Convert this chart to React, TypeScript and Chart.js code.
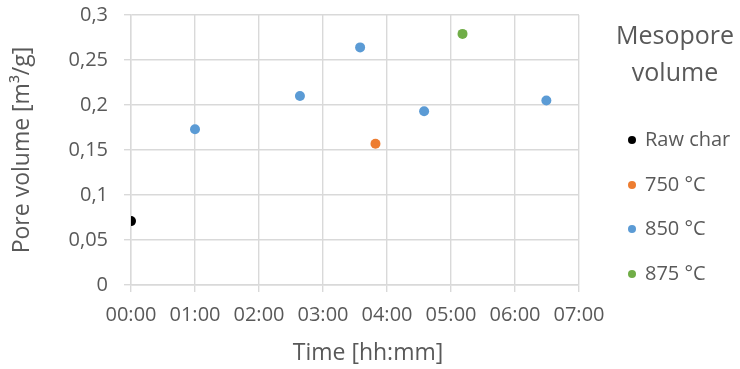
import React, { useEffect, useRef } from "react";
import { Chart, registerables } from "chart.js";

Chart.register(...registerables);

// Time in hours, pore volume in m3/g
const rawCharX = [0];
const rawCharY = [0.071];
const t750X = [3.82];
const t750Y = [0.157];
const t850X = [1.0, 2.64, 3.58, 4.58, 6.49];
const t850Y = [0.173, 0.21, 0.264, 0.193, 0.205];
const t875X = [5.18];
const t875Y = [0.279];

const seriesNames = ["Raw char", "750 °C", "850 °C", "875 °C"];
const seriesColors = ["#000000", "#ED7D31", "#5B9BD5", "#70AD47"];
const legendTitle = ["Mesopore", "volume"];
const xTitle = "Time [hh:mm]";
const yTitle = "Pore volume [m³/g]";

const FONT = "'Open Sans', 'Noto Sans', sans-serif";
const TEXT = "#595959";
const GRID = "#D9D9D9";

const toPoints = (xs: number[], ys: number[]) => xs.map((x, i) => ({ x, y: ys[i] }));

const overlayPlugin = {
  id: "overlay",
  afterDraw(chart: any) {
    const ctx = chart.ctx;
    ctx.save();
    ctx.fillStyle = TEXT;
    // x axis title
    ctx.font = `23px ${FONT}`;
    ctx.textAlign = "center";
    ctx.textBaseline = "middle";
    ctx.fillText(xTitle, 368, 353);
    // legend title
    ctx.font = `25px ${FONT}`;
    ctx.fillText(legendTitle[0], 675, 37);
    ctx.fillText(legendTitle[1], 675, 74);
    // legend items
    const ys = [140, 185, 229, 274];
    ctx.font = `20px ${FONT}`;
    ctx.textAlign = "left";
    seriesNames.forEach((name, i) => {
      ctx.fillStyle = seriesColors[i];
      ctx.beginPath();
      ctx.arc(632, ys[i], 4, 0, Math.PI * 2);
      ctx.fill();
      ctx.fillStyle = TEXT;
      ctx.fillText(name, 645, ys[i]);
    });
    ctx.restore();
  },
};

export default function App() {
  const ref = useRef<HTMLCanvasElement>(null);
  useEffect(() => {
    if (!ref.current) return;
    const data = [
      toPoints(rawCharX, rawCharY),
      toPoints(t750X, t750Y),
      toPoints(t850X, t850Y),
      toPoints(t875X, t875Y),
    ];
    const chart = new Chart(ref.current, {
      type: "scatter",
      data: {
        datasets: data.map((d, i) => ({
          label: seriesNames[i],
          data: d,
          backgroundColor: seriesColors[i],
          borderColor: seriesColors[i],
          borderWidth: 0,
          pointRadius: 5,
          pointHoverRadius: 5,
        })),
      },
      options: {
        responsive: false,
        animation: false,
        events: [],
        layout: { padding: { left: 0, top: 15, right: 161, bottom: 0 } },
        plugins: { legend: { display: false }, tooltip: { enabled: false } },
        scales: {
          x: {
            type: "linear",
            min: 0,
            max: 7,
            afterFit: (s: any) => {
              s.height = 84;
              s.paddingLeft = 0;
              s.paddingRight = 0;
            },
            ticks: {
              stepSize: 1,
              padding: 11,
              color: TEXT,
              font: { family: FONT, size: 20 },
              maxRotation: 0,
              callback: (v: any) => String(Math.round(Number(v))).padStart(2, "0") + ":00",
            },
            grid: { color: GRID, lineWidth: 1.4, tickLength: 7, drawTicks: true },
            border: { color: GRID, width: 1.4 },
          },
          y: {
            min: 0,
            max: 0.3,
            afterFit: (s: any) => {
              s.width = 131;
              s.paddingTop = 0;
              s.paddingBottom = 0;
            },
            ticks: {
              stepSize: 0.05,
              padding: 16,
              color: TEXT,
              font: { family: FONT, size: 20 },
              callback: (v: any) => String(parseFloat(Number(v).toFixed(3))).replace(".", ","),
            },
            grid: { color: GRID, lineWidth: 1.4, tickLength: 7, drawTicks: true },
            border: { color: GRID, width: 1.4 },
            title: {
              display: true,
              text: yTitle,
              color: TEXT,
              font: { family: FONT, size: 23 },
              padding: { top: 9, bottom: 0 },
            },
          },
        },
      },
      plugins: [overlayPlugin],
    });
    return () => chart.destroy();
  }, []);
  return (
    <div style={{ position: "absolute", left: 0, top: 0, width: 740, height: 369, background: "#fff" }}>
      <canvas ref={ref} width={740} height={369} style={{ display: "block" }} />
    </div>
  );
}
